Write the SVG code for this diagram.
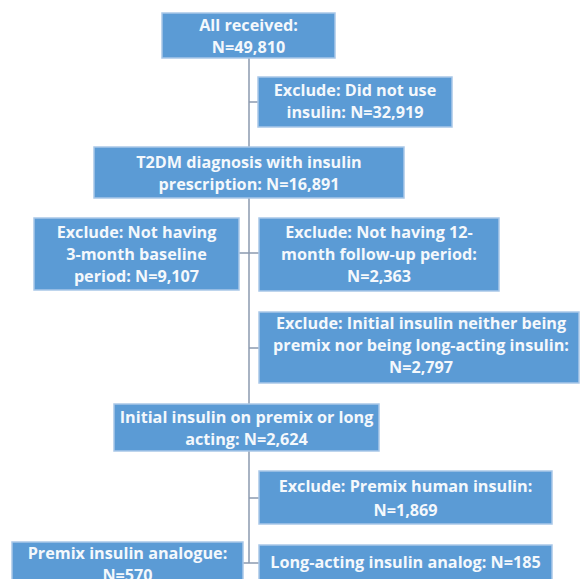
<svg xmlns="http://www.w3.org/2000/svg" width="581" height="579" viewBox="0 0 581 579">
<style>
.box{fill:#5B9BD5;stroke:#A9C7E8;stroke-width:1.5}
.t{font-family:"Open Sans",Lato,"Liberation Sans",sans-serif;font-weight:700;font-size:16.2px;fill:#F4F8FC;text-anchor:middle}
.ln{stroke:#8C9BB0;stroke-width:1.5;fill:none}
</style>
<rect width="581" height="579" fill="#FFFFFF"/>
<g id="connectors">
<path class="ln" d="M249,58 V147 M249,198 V404 M249,451 V563"/>
<path class="ln" d="M249,102 H258 M239,253 H259 M249,348 H259 M249,498 H259 M243,563 H259"/>
</g>
<g id="n1"><rect class="box" x="162" y="13" width="173" height="45"/>
<text class="t" x="248.5" y="31">All received:</text><text class="t" x="248.5" y="53">N=49,810</text></g>
<g id="n2"><rect class="box" x="258" y="77" width="194" height="50"/>
<text class="t" x="355" y="96">Exclude: Did not use</text><text class="t" x="355" y="118">insulin: N=32,919</text></g>
<g id="n3"><rect class="box" x="94" y="147" width="310" height="51"/>
<text class="t" x="249" y="168">T2DM diagnosis with insulin</text><text class="t" x="249" y="190">prescription: N=16,891</text></g>
<g id="n4"><rect class="box" x="34" y="218" width="205" height="72"/>
<text class="t" x="136.5" y="238">Exclude: Not having</text><text class="t" x="136.5" y="260">3-month baseline</text><text class="t" x="136.5" y="282">period: N=9,107</text></g>
<g id="n5"><rect class="box" x="259" y="218" width="240" height="73"/>
<text class="t" x="379" y="238">Exclude: Not having 12-</text><text class="t" x="379" y="260">month follow-up period:</text><text class="t" x="379" y="282">N=2,363</text></g>
<g id="n6"><rect class="box" x="259" y="312" width="320" height="71"/>
<text class="t" x="421" y="329">Exclude: Initial insulin neither being</text><text class="t" x="421" y="351">premix nor being long-acting insulin:</text><text class="t" x="421" y="373">N=2,797</text></g>
<g id="n7"><rect class="box" x="114" y="404" width="265" height="47"/>
<text class="t" x="246.5" y="423">Initial insulin on premix or long</text><text class="t" x="246.5" y="445">acting: N=2,624</text></g>
<g id="n8"><rect class="box" x="259" y="471" width="293" height="53"/>
<text class="t" x="405.5" y="492">Exclude: Premix human insulin:</text><text class="t" x="405.5" y="516">N=1,869</text></g>
<g id="n9"><rect class="box" x="259" y="545" width="293" height="40"/>
<text class="t" x="405.5" y="568">Long-acting insulin analog: N=185</text></g>
<g id="n10"><rect class="box" x="12" y="542" width="231" height="40"/>
<text class="t" x="127.5" y="559">Premix insulin analogue:</text><text class="t" x="127.5" y="581">N=570</text></g>
</svg>
